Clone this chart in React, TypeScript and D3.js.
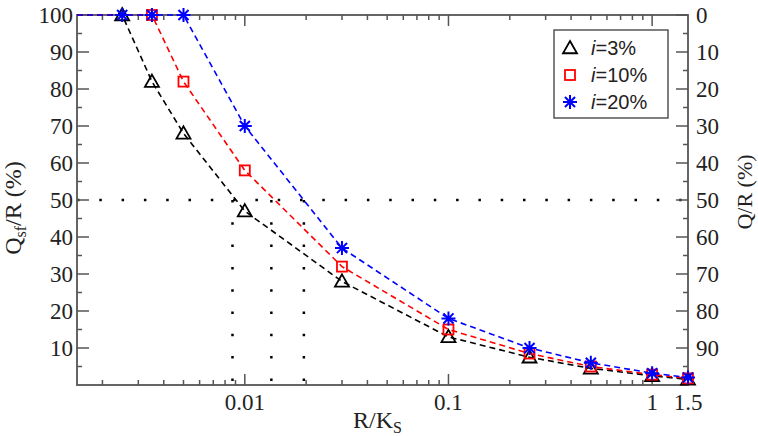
import * as d3 from 'd3'

const width = 758
const height = 436

const margin = { top: 15, right: 70, bottom: 51, left: 77 }

// R/Ks sampled on the log axis
const rks = [0.0025, 0.0035, 0.005, 0.01, 0.03, 0.1, 0.25, 0.5, 1, 1.5]

// Qsf/R (%) for each slope; null = no sample at that R/Ks
const qsf3 = [100, 82, 68, 47, 28, 13, 7.5, 4.5, 2.5, 1.5]
const qsf10 = [null, 100, 82, 58, 32, 15, 8.5, 5, 2.8, 1.8]
const qsf20 = [100, 100, 100, 70, 37, 18, 10, 6, 3.2, 2]

const seriesNames = ['i=3%', 'i=10%', 'i=20%']
const seriesColors = ['#000000', '#ff0000', '#0000ff']
const seriesSymbols = ['triangle', 'square', 'star']

// 50% level and where each curve crosses it
const halfLevel = 50
const crossings = [0.0087, 0.0135, 0.0195]

const xTickLabels = [0.01, 0.1, 1, 1.5]
const leftTicks = [10, 20, 30, 40, 50, 60, 70, 80, 90, 100]
const rightTicks = [0, 10, 20, 30, 40, 50, 60, 70, 80, 90]

const axisColor = '#555'
const textColor = '#222'
const serif = "'Times New Roman', 'Liberation Serif', Tinos, 'DejaVu Serif', serif"
const sans = "'Liberation Sans', Arial, sans-serif"

function Marker({ type, x, y, color }: { type: string; x: number; y: number; color: string }) {
  if (type === 'triangle') {
    const s = 7
    return (
      <path
        d={`M${x},${y - s} L${x + s},${y + s * 0.75} L${x - s},${y + s * 0.75} Z`}
        fill="none" stroke={color} strokeWidth={1.8}
      />
    )
  }
  if (type === 'square') {
    const s = 5
    return <rect x={x - s} y={y - s} width={2 * s} height={2 * s} fill="none" stroke={color} strokeWidth={1.8} />
  }
  const s = 7
  const d = s * 0.72
  return (
    <path
      d={`M${x},${y - s}V${y + s}M${x - s},${y}H${x + s}M${x - d},${y - d}L${x + d},${y + d}M${x - d},${y + d}L${x + d},${y - d}`}
      stroke={color} strokeWidth={2}
    />
  )
}

function App() {
  const innerWidth = width - margin.left - margin.right
  const innerHeight = height - margin.top - margin.bottom
  const x0 = margin.left
  const x1 = margin.left + innerWidth
  const y0 = margin.top
  const y1 = margin.top + innerHeight

  const xScale = d3.scaleLog().domain([0.0015, 1.5]).range([x0, x1])
  const yScale = d3.scaleLinear().domain([0, 100]).range([y1, y0])
  const yRight = d3.scaleLinear().domain([100, 0]).range([y1, y0])

  const [dMin, dMax] = xScale.domain()
  const minorX: number[] = []
  const majorX: number[] = []
  for (let e = -3; e <= 0; e++) {
    for (let k = 1; k <= 9; k++) {
      const v = k * Math.pow(10, e)
      if (v <= dMin || v >= dMax) continue
      if (k === 1) majorX.push(v)
      else minorX.push(v)
    }
  }
  const minorY = d3.range(5, 100, 10)

  const allSeries = [qsf3, qsf10, qsf20]

  const line = d3.line<[number, number]>()
    .x(d => xScale(d[0]))
    .y(d => yScale(d[1]))

  return (
    <svg width={width} height={height} style={{ position: 'absolute', left: 0, top: 0, background: '#fff' }}>
      {/* dotted 50% guides */}
      <line x1={x0} x2={x1} y1={yScale(halfLevel)} y2={yScale(halfLevel)}
        stroke="#000" strokeWidth={2.5} strokeDasharray="2.5 19.8" />
      {crossings.map(c => (
        <line key={c} x1={xScale(c)} x2={xScale(c)} y1={yScale(halfLevel)} y2={yScale(0)}
          stroke="#000" strokeWidth={2.5} strokeDasharray="2.5 19.8" />
      ))}

      {/* frame + ticks */}
      <rect x={x0} y={y0} width={innerWidth} height={innerHeight} fill="none" stroke={axisColor} strokeWidth={1.8} />
      {majorX.map(v => (
        <g key={'M' + v}>
          <line x1={xScale(v)} x2={xScale(v)} y1={y1} y2={y1 - 11} stroke={axisColor} strokeWidth={1.5} />
          <line x1={xScale(v)} x2={xScale(v)} y1={y0} y2={y0 + 11} stroke={axisColor} strokeWidth={1.5} />
        </g>
      ))}
      {minorX.map(v => (
        <g key={'m' + v}>
          <line x1={xScale(v)} x2={xScale(v)} y1={y1} y2={y1 - 5} stroke={axisColor} strokeWidth={1.5} />
          <line x1={xScale(v)} x2={xScale(v)} y1={y0} y2={y0 + 5} stroke={axisColor} strokeWidth={1.5} />
        </g>
      ))}
      {leftTicks.map(v => (
        <g key={'y' + v}>
          <line x1={x0} x2={x0 + 12} y1={yScale(v)} y2={yScale(v)} stroke={axisColor} strokeWidth={1.5} />
          <line x1={x1} x2={x1 - 12} y1={yScale(v)} y2={yScale(v)} stroke={axisColor} strokeWidth={1.5} />
        </g>
      ))}
      {minorY.map(v => (
        <g key={'ym' + v}>
          <line x1={x0} x2={x0 + 5} y1={yScale(v)} y2={yScale(v)} stroke={axisColor} strokeWidth={1.5} />
          <line x1={x1} x2={x1 - 5} y1={yScale(v)} y2={yScale(v)} stroke={axisColor} strokeWidth={1.5} />
        </g>
      ))}

      {/* tick labels */}
      <g style={{ fontFamily: serif }} fontSize={23} fill={textColor}>
        {leftTicks.map(v => (
          <text key={v} x={x0 - 4} y={yScale(v)} dy="0.35em" textAnchor="end">{v}</text>
        ))}
        {rightTicks.map(v => (
          <text key={v} x={x1 + 8} y={yRight(v)} dy="0.35em" textAnchor="start">{v}</text>
        ))}
        {xTickLabels.map(v => (
          <text key={v} x={xScale(v)} y={y1 + 25} textAnchor="middle">{v}</text>
        ))}
      </g>

      {/* axis titles */}
      <g style={{ fontFamily: serif }} fill={textColor}>
        <text x={(x0 + x1) / 2 - 5} y={y1 + 43} textAnchor="middle" fontSize={24}>
          R/K<tspan fontSize={16} dy={5}>S</tspan>
        </text>
        <text transform={`translate(21, ${(y0 + y1) / 2 + 8}) rotate(-90)`} textAnchor="middle" fontSize={24}>
          Q<tspan fontSize={16} dy={5}>sf</tspan><tspan dy={-5}>/R (%)</tspan>
        </text>
        <text transform={`translate(752, ${(y0 + y1) / 2 - 8}) rotate(-90)`} textAnchor="middle" fontSize={22}>
          Q/R (%)
        </text>
      </g>

      {/* series */}
      {allSeries.map((vals, i) => {
        const pts = rks
          .map((r, j) => [r, vals[j]] as [number, number | null])
          .filter(p => p[1] !== null) as [number, number][]
        const path = line([[dMin, pts[0][1]], ...pts])
        return (
          <g key={i}>
            <path d={path || ''} fill="none" stroke={seriesColors[i]} strokeWidth={1.6} strokeDasharray="6 4" />
            {pts.map(p => (
              <Marker key={p[0]} type={seriesSymbols[i]} x={xScale(p[0])} y={yScale(p[1])} color={seriesColors[i]} />
            ))}
          </g>
        )
      })}

      {/* legend */}
      <g transform="translate(554, 30)">
        <rect width={114} height={88} fill="#fff" stroke={axisColor} strokeWidth={1.5} />
        {seriesNames.map((name, i) => (
          <g key={name} transform={`translate(0, ${18 + i * 27})`}>
            <Marker type={seriesSymbols[i]} x={16} y={0} color={seriesColors[i]} />
            <text x={37} y={0} dy="0.35em" style={{ fontFamily: sans }} fontSize={20} fill={textColor}>
              <tspan fontStyle="italic">i</tspan>{name.slice(1)}
            </text>
          </g>
        ))}
      </g>
    </svg>
  )
}

export default App
